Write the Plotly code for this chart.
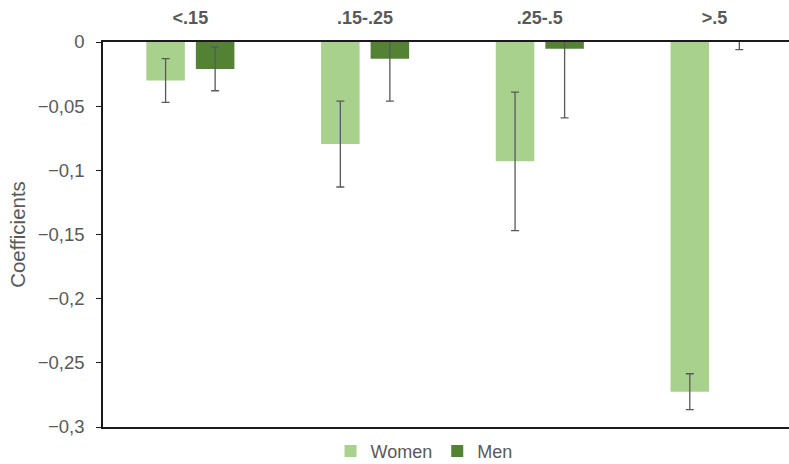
import plotly.graph_objects as go

# Income-share categories shown along the top axis
categories = ["<.15", ".15-.25", ".25-.5", ">.5"]

# Regression coefficients and their error margins
women_coef = [-0.030, -0.0795, -0.093, -0.2725]
women_err = [0.017, 0.0335, 0.054, 0.014]
men_coef = [-0.021, -0.013, -0.0052, 0.0]
men_err = [0.017, 0.033, 0.054, 0.006]

y_ticks = [0, -0.05, -0.1, -0.15, -0.2, -0.25, -0.3]

TEXT = "#595959"
FONT = "Liberation Sans, Arial, sans-serif"

fig = go.Figure()
fig.add_trace(go.Bar(
    name="Women", x=categories, y=women_coef,
    marker=dict(color="#A9D18E", line=dict(width=0)),
    error_y=dict(type="data", array=women_err, color=TEXT, thickness=1.3, width=4),
))
fig.add_trace(go.Bar(
    name="Men", x=categories, y=men_coef,
    marker=dict(color="#548235", line=dict(width=0)),
    error_y=dict(type="data", array=men_err, color=TEXT, thickness=1.3, width=4),
))

fig.update_layout(
    width=789, height=464,
    margin=dict(l=103, r=0, t=42, b=37, autoexpand=False),
    paper_bgcolor="white", plot_bgcolor="white",
    separators=", ",
    barmode="group", bargap=0.433, bargroupgap=0.222,
    font=dict(family=FONT, color=TEXT, size=18),
    showlegend=True,
    legend=dict(
        orientation="h", x=0.468, xanchor="center", y=-0.015, yanchor="top",
        font=dict(size=18, color=TEXT), itemwidth=30, traceorder="normal",
    ),
)

fig.update_xaxes(
    type="category", side="top", range=[-0.5, 3.426],
    showline=True, linecolor="#1a1a1a", linewidth=1.5, mirror=True,
    ticks="", showgrid=False, zeroline=False,
    tickfont=dict(size=18, color=TEXT, family=FONT, weight="bold"),
    ticklabelstandoff=9,
)
fig.update_yaxes(
    range=[-0.3, 0], tickvals=y_ticks,
    showline=True, linecolor="#1a1a1a", linewidth=1.5,
    ticks="outside", ticklen=5, tickcolor="#1a1a1a", tickwidth=1.3,
    showgrid=False, zeroline=False,
    tickfont=dict(size=18.5, color=TEXT),
    ticklabelstandoff=8,
    title=dict(text="Coefficients", font=dict(size=20.5, color=TEXT), standoff=7),
)

fig.write_html("out.html")
